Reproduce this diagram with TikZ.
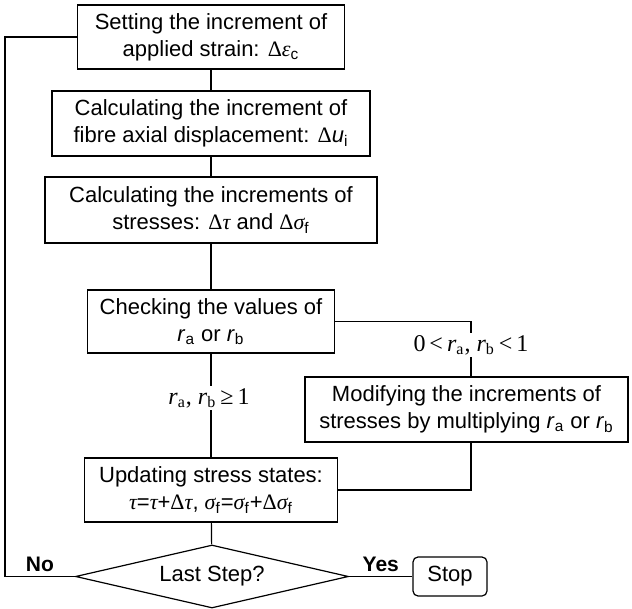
\documentclass[tikz,border=0pt]{standalone}
\usepackage{fontspec}
\setmainfont{Liberation Sans}
\newfontfamily\tnr{Liberation Serif}
\usetikzlibrary{shapes.geometric}
\newcommand{\dlt}{{\tnr Δ}}
\newcommand{\gr}[1]{{\tnr\itshape #1}}
\newcommand{\lo}[1]{\textsubscript{#1}}
\tikzset{
  blk/.style={draw, line width=0.6pt, align=center, inner sep=0pt, font=\fontsize{11}{13.5}\selectfont},
  cond/.style={font=\tnr\fontsize{12}{14}\selectfont, inner sep=1pt},
  lnk/.style={line width=0.6pt},
  ans/.style={font=\bfseries\fontsize{10.5}{12}\selectfont, above, inner sep=2pt},
}

\begin{document}
\begin{tikzpicture}[x=0.5pt,y=-0.5pt]
  \useasboundingbox (0,0) rectangle (632,609);
  % --- main column ---
  \node[blk, minimum width=133.5pt, minimum height=32pt] (setinc) at (211,37)
    {Setting the increment of\\applied strain: \dlt\gr{ε}\lo{c}};
  \node[blk, minimum width=159pt, minimum height=32.5pt] (calcu) at (211,123.5)
    {Calculating the increment of\\fibre axial displacement: \dlt\textit{u}\lo{i}};
  \node[blk, minimum width=166pt, minimum height=33pt] (calcs) at (211,210)
    {Calculating the increments of\\stresses: \dlt\gr{τ} and \dlt\gr{σ}\lo{f}};
  \node[blk, minimum width=123.5pt, minimum height=31.5pt] (check) at (211,321.5)
    {Checking the values of\\\textit{r}\lo{a} or \textit{r}\lo{b}};
  \node[blk, minimum width=126.5pt, minimum height=32pt] (update) at (211,490)
    {Updating stress states:\\\gr{τ}=\gr{τ}+\dlt\gr{τ}, \gr{σ}\lo{f}=\gr{σ}\lo{f}+\dlt\gr{σ}\lo{f}};
  \node[blk, shape=diamond, aspect=4.33, minimum width=136.5pt, minimum height=31.5pt] (last) at (212,576.5)
    {Last Step?};
  \node[blk, rounded corners=2.5pt, minimum width=37pt, minimum height=19.5pt] (stop) at (450,576.5) {Stop};
  % --- side branch ---
  \node[blk, minimum width=161.5pt, minimum height=32.5pt] (modify) at (466.5,409.5)
    {Modifying the increments of\\stresses by multiplying \textit{r}\lo{a} or \textit{r}\lo{b}};
  \node[cond] (small) at (471,345) {0\,<\,\textit{r}\lo{a}, \textit{r}\lo{b}\,<\,1};
  \node[cond] (big) at (209,398) {\textit{r}\lo{a}, \textit{r}\lo{b}\,≥\,1};

  \draw[lnk] (setinc) -- (calcu);
  \draw[lnk] (calcu) -- (calcs);
  \draw[lnk] (calcs) -- (check);
  \draw[lnk] (check.south) -- (big.north -| check.south);
  \draw[lnk] (big.south -| update.north) -- (update.north);
  \draw[lnk] (check.east) -| (small.north);
  \draw[lnk] (small.south) -- (small.south |- modify.north);
  \draw[lnk] (modify.south -| small) |- (update.east);
  \draw[lnk] (update) -- (last);
  \draw[lnk] (last.east) -- node[ans] {Yes} (stop.west);
  \draw[lnk] (last.west) -- node[ans] {No} ++(-70,0) |- (setinc.west);
\end{tikzpicture}
\end{document}
